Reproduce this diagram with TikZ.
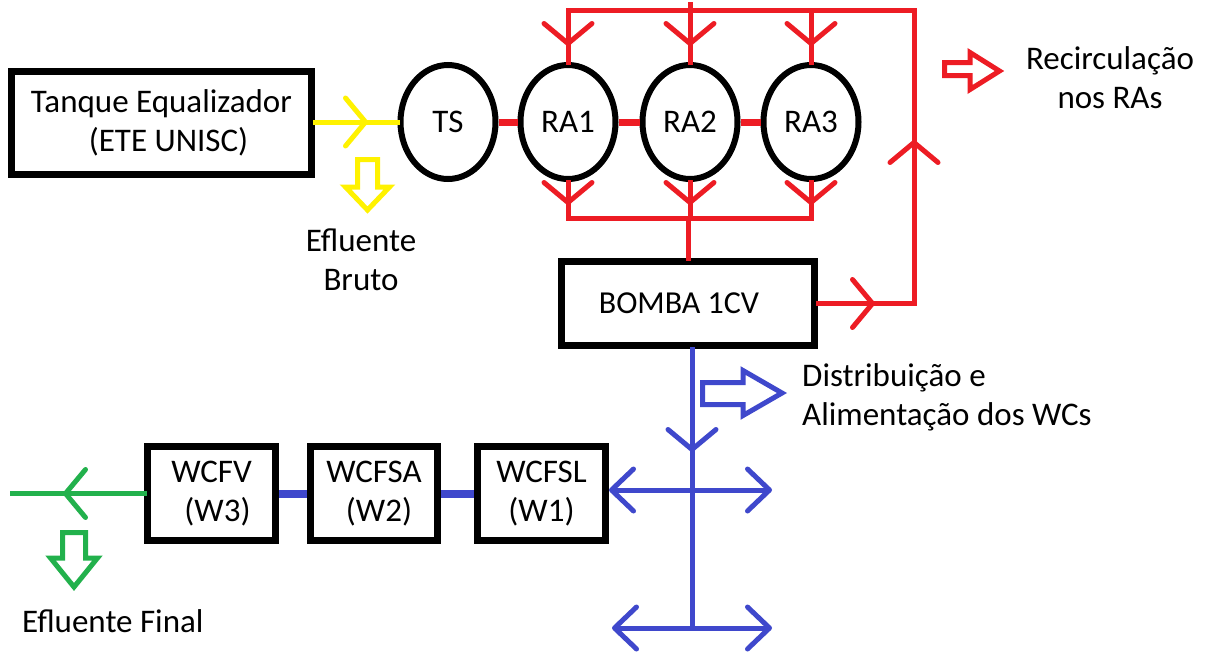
\documentclass[tikz,border=0pt]{standalone}
\usepackage{fontspec}
\setmainfont{Carlito}
\usetikzlibrary{arrows.meta,decorations.markings,shapes.geometric}
\definecolor{pred}{RGB}{237,28,36}
\definecolor{pyel}{RGB}{255,242,0}
\definecolor{pblue}{RGB}{63,72,204}
\definecolor{pgreen}{RGB}{34,177,76}
\tikzset{
  barbA/.tip={Straight Barb[length=20pt,width=48pt,line width=5pt,round]},
  barbB/.tip={Straight Barb[length=22pt,width=42pt,line width=5pt,round]},
}
\begin{document}
\begin{tikzpicture}[x=1pt,y=-1pt,
  every node/.style={font=\fontsize{33}{39}\selectfont},
  box/.style={draw=black,line width=7pt,rectangle,align=center,inner sep=0pt},
  tank/.style={draw=black,line width=6pt,ellipse,minimum width=95pt,minimum height=114pt,inner sep=0pt},
  lbl/.style={align=center,inner sep=0pt},
  midtip/.style={postaction={decorate},decoration={markings,mark=at position #1 with {\arrow{barbA}}}},
  pipe/.style={line width=5pt,line cap=rect},
  link/.style={line width=7pt},
  hollow/.style={line width=5pt,line join=miter},
]
\useasboundingbox (0,0) rectangle (1210,654);
\fill[white] (0,0) rectangle (1210,654);

% nodes
\node[box,minimum width=300pt,minimum height=103pt] (tanque) at (161.5,123) {Tanque Equalizador\\\hspace*{14pt}(ETE UNISC)};
\node[tank] (ts) at (448,122) {TS};
\node[tank] (ra1) at (568,122) {RA1};
\node[tank] (ra2) at (690,122) {RA2};
\node[tank] (ra3) at (811,122) {RA3};
\node[box,minimum width=253pt,minimum height=84pt,font=\fontsize{32}{39}\selectfont] (bomba) at (688,303.5) {\raisebox{-3pt}{BOMBA 1CV}\hspace*{18pt}};
\node[box,minimum width=128pt,minimum height=94pt] (wcfv) at (211.5,493.5) {WCFV\\\hspace*{12pt}(W3)};
\node[box,minimum width=127pt,minimum height=94pt] (wcfsa) at (374,493.5) {WCFSA\\\hspace*{10pt}(W2)};
\node[box,minimum width=128pt,minimum height=94pt] (wcfsl) at (541.5,493.5) {WCFSL\\(W1)};

% coordinates
\coordinate (tl) at (568,10);
\coordinate (tr) at (914,10);
\coordinate (t2) at (690,4);
\coordinate (hb) at (568,218);
\coordinate (j1) at (692,490);
\coordinate (j2) at (692,628);
\coordinate (r1) at (772,490);
\coordinate (l2) at (612,628);
\coordinate (r2) at (772,628);
\coordinate (gend) at (12,493.5);

% red recirculation
\draw[pred,pipe,postaction={decorate},decoration={markings,
   mark=at position 57pt with {\arrow{barbA}},
   mark=at position 259.5pt with {\arrow{barbA}},
   mark=at position 771.5pt with {\arrow{barbA}}}]
  (bomba.east) -- (bomba.east -| tr) -- (tr) -- (tl) -- (ra1.north);
\draw[pred,pipe,midtip=42pt] (t2) -- (ra2.north);
\draw[pred,pipe,midtip=36pt] (ra3.north |- tl) -- (ra3.north);
\draw[pred,pipe,midtip=23pt] (ra1.south) -- (hb);
\draw[pred,pipe,midtip=23pt] (ra2.south) -- (ra2.south |- hb);
\draw[pred,pipe,midtip=23pt] (ra3.south) -- (ra3.south |- hb);
\draw[pred,pipe] (hb) -- (ra3.south |- hb);
\draw[pred,pipe] (bomba.north |- hb) -- (bomba.north);
\draw[pred,link] (ts) -- (ra1);
\draw[pred,link] (ra1) -- (ra2);
\draw[pred,link] (ra2) -- (ra3);

% yellow inflow
\draw[pyel,pipe,midtip=53pt] (tanque.east |- ts.west) -- (ts.west);

% blue distribution
\draw[pblue,pipe,midtip=103pt] (bomba.south -| j1) -- (j2);
\draw[pblue,pipe,-barbB] (j1) -- (wcfsl.east |- j1);
\draw[pblue,pipe,-barbB] (j1) -- (r1);
\draw[pblue,pipe,-barbB] (j2) -- (l2);
\draw[pblue,pipe,-barbB] (j2) -- (r2);
\draw[pblue,line width=8pt] (wcfv) -- (wcfsa);
\draw[pblue,line width=8pt] (wcfsa) -- (wcfsl);

% green outflow
\draw[pgreen,pipe,midtip=81pt] (wcfv.west) -- (gend);

% hollow arrows
\draw[hollow,pyel] (357.5,159.5) -- (377.5,159.5) -- (377.5,187) -- (389.5,187) -- (367.5,210) -- (345.5,187) -- (357.5,187) -- cycle;
\draw[hollow,pred] (944.5,62.5) -- (970,62.5) -- (970,52.5) -- (999.5,71) -- (970,89.5) -- (970,75.5) -- (944.5,75.5) -- cycle;
\draw[hollow,pblue] (702.5,382.5) -- (743,382.5) -- (743,370.5) -- (782,393) -- (743,415.5) -- (743,404.5) -- (702.5,404.5) -- cycle;
\draw[hollow,pgreen] (62.5,532.5) -- (85.5,532.5) -- (85.5,558) -- (97.5,558) -- (74,587) -- (50.5,558) -- (62.5,558) -- cycle;

% labels (base anchor = baseline of last line)
\node[lbl,anchor=base] (efb) at (361,290) {Efluente\\Bruto};
\node[lbl,anchor=base] (rec) at (1110,108) {Recirculação\\nos RAs};
\node[lbl,anchor=base west,align=left] (dist) at (802,425) {Distribuição e\\Alimentação dos WCs};
\node[lbl,anchor=base west] (eff) at (22,632) {Efluente Final};
\end{tikzpicture}
\end{document}
